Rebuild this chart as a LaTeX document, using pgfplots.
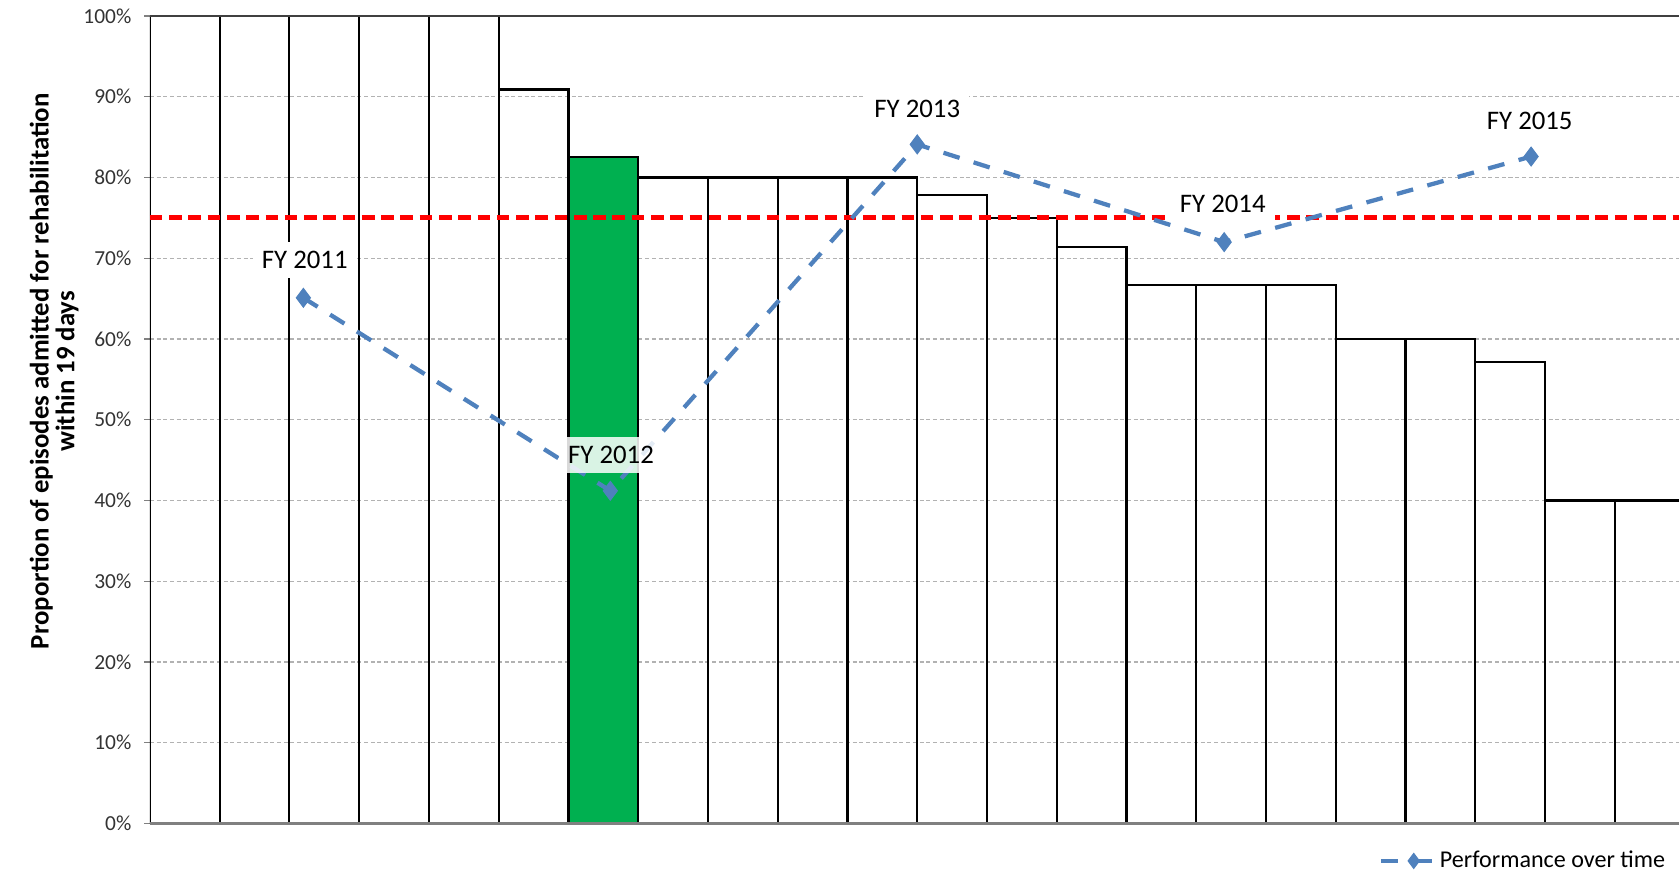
\documentclass[border=0pt]{standalone}
\usepackage{fontspec}
\setmainfont{Carlito}
\usepackage{pgfplots}
\pgfplotsset{compat=1.18}
\usetikzlibrary{calc}
\definecolor{barGreen}{HTML}{00B050}
\definecolor{perfBlue}{HTML}{4F81BD}
\definecolor{targetRed}{HTML}{FF0000}

\begin{document}
\begin{tikzpicture}
\begin{axis}[
  name=ax,
  scale only axis,
  width=571.2pt, height=301.6pt,
  xmin=0, xmax=21.92,
  ymin=0, ymax=100,
  xtick=\empty,
  ytick={0,10,...,100},
  yticklabel={\pgfmathprintnumber{\tick}\%},
  /pgf/number format/assume math mode=true,
  y tick label style={font=\fontsize{8}{9}\selectfont, text=black!80, xshift=-1.2pt},
  ytick pos=left, tick align=outside, major tick length=2.2pt,
  tick style={gray, line width=0.5pt},
  ymajorgrids,
  major grid style={gray!60, dash pattern=on 1.5pt off 1pt, line width=0.5pt},
  axis line style={draw=none},
  clip mode=individual,
  ylabel={Proportion of episodes admitted for rehabilitation\\within 19 days},
  ylabel style={font=\fontsize{10}{9.6}\selectfont\bfseries, align=center,
    at={(ticklabel cs:0.56)}},
  ylabel shift=-5pt,
  legend style={at={(1,0)}, anchor=east, xshift=-3pt, yshift=-14pt,
    draw=none, fill=none, inner sep=0pt, font=\fontsize{9}{11}\selectfont},
  legend cell align=left,
  legend image code/.code={
    \draw[#1, solid] (0pt,0pt) -- (6.5pt,0pt);
    \draw[#1, solid] (12.3pt,0pt) -- (19.3pt,0pt);
    \draw[#1, solid, only marks, mark size=2.8pt] plot coordinates {(12.3pt,0pt)};
  },
]
% facilities, sorted by proportion
\addplot[ybar, bar width=1, bar shift=0pt, draw=black, fill=none,
  line width=0.8pt, forget plot]
  coordinates {(0.5,100)(1.5,100)(2.5,100)(3.5,100)(4.5,100)(5.5,90.9)
    (7.5,80)(8.5,80)(9.5,80)(10.5,80)(11.5,77.8)(12.5,75)(13.5,71.4)
    (14.5,66.7)(15.5,66.7)(16.5,66.7)(17.5,60)(18.5,60)(19.5,57.1)
    (20.5,40)(21.5,40)};
% highlighted facility
\addplot[ybar, bar width=1, bar shift=0pt, draw=black, fill=barGreen,
  line width=0.8pt, forget plot]
  coordinates {(6.5,82.5)};
% target 75%
\addplot[targetRed, line width=1.8pt, dash pattern=on 4.7pt off 2.5pt, forget plot]
  coordinates {(0,75)(21.92,75)};
% performance over time
\addplot[perfBlue, line width=1.6pt, dash pattern=on 6.3pt off 5.5pt,
  mark=diamond*, mark size=3.5pt,
  mark options={solid, fill=perfBlue, line width=0.4pt}]
  coordinates {(2.2,65.1)(6.6,41.2)(11.0,84.1)(15.4,72.0)(19.8,82.6)};
\addlegendentry{Performance over time}

\draw[gray, line width=1pt] (rel axis cs:0,0) -- (rel axis cs:1,0);
\draw[black!75, line width=0.8pt] (rel axis cs:0,1) -- (rel axis cs:1,1);

\node[fill=white, inner sep=3.5pt, font=\fontsize{10}{12}\selectfont]
  at (axis cs:2.22,69.8) {FY 2011};
\node[fill=white, fill opacity=0.85, text opacity=1, inner sep=3.5pt,
  font=\fontsize{10}{12}\selectfont]
  at (axis cs:6.61,45.6) {FY 2012};
\node[fill=white, inner sep=3.5pt, font=\fontsize{10}{12}\selectfont]
  at (axis cs:11.0,88.5) {FY 2013};
\node[fill=white, inner sep=3.5pt, font=\fontsize{10}{12}\selectfont]
  at (axis cs:15.38,76.7) {FY 2014};
\node[fill=white, inner sep=3.5pt, font=\fontsize{10}{12}\selectfont]
  at (axis cs:19.78,87.0) {FY 2015};
\end{axis}
\pgfresetboundingbox
\path[use as bounding box] ($(ax.south west)+(-56pt,-17.6pt)$)
  rectangle ($(ax.north east)+(0pt,6pt)$);
\end{tikzpicture}
\end{document}
